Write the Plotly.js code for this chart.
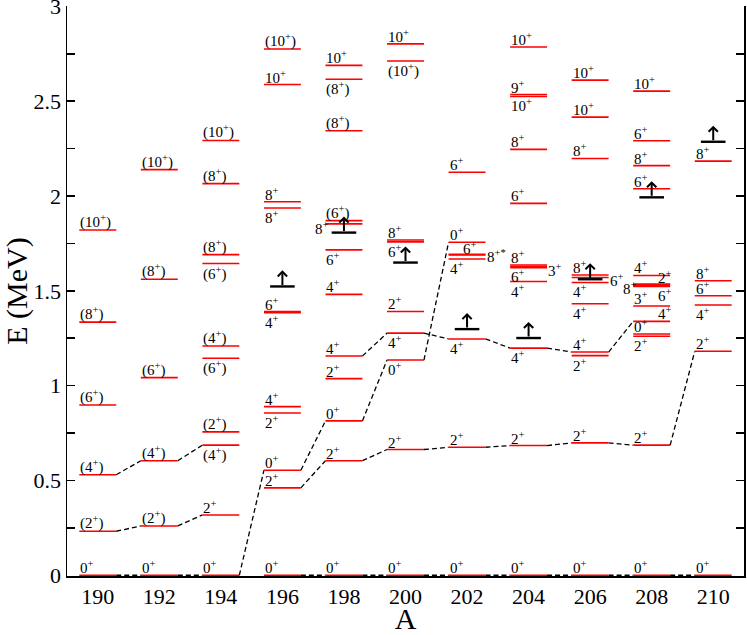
<!DOCTYPE html>
<html>
<head>
<meta charset="utf-8">
<script src="https://cdn.plot.ly/plotly-3.0.1.min.js"></script>
<style>html,body{margin:0;padding:0;background:#fff;}#plot{width:747px;height:635px;}</style>
</head>
<body>
<div id="plot"></div>
<script>
// ---- data ----
const massNumbers = [190, 192, 194, 196, 198, 200, 202, 204, 206, 208, 210];

const levelA = [
  190,190,190,190,190,190,
  192,192,192,192,192,192,
  194,194,194,194,194,194,194,194,194,194,
  196,196,196,196,196,196,196,196,196,196,196,
  198,198,198,198,198,198,198,198,198,198,198,198,
  200,200,200,200,200,200,200,200,200,
  202,202,202,202,202,202,202,202,
  204,204,204,204,204,204,204,204,204,204,204,204,
  206,206,206,206,206,206,206,206,206,206,206,
  208,208,208,208,208,208,208,208,208,208,208,208,208,208,
  210,210,210,210,210,210
];
const levelE = [
  0, 0.232, 0.530, 0.898, 1.335, 1.821,
  0, 0.260, 0.604, 1.042, 1.561, 2.139,
  0, 0.318, 0.686, 0.756, 1.144, 1.209, 1.644, 1.691, 2.065, 2.293,
  0, 0.461, 0.554, 0.856, 0.889, 1.385, 1.390, 1.937, 1.970, 2.588, 2.775,
  0, 0.604, 0.814, 1.037, 1.156, 1.481, 1.716, 1.853, 1.870, 2.344, 2.616, 2.689,
  0, 0.663, 1.135, 1.277, 1.391, 1.758, 1.768, 2.712, 2.802,
  0, 0.675, 1.246, 1.668, 1.689, 1.692, 1.756, 2.125,
  0, 0.684, 1.198, 1.549, 1.622, 1.628, 1.636, 1.961, 2.246, 2.525, 2.535, 2.786,
  0, 0.698, 1.158, 1.177, 1.432, 1.544, 1.570, 1.583, 2.198, 2.416, 2.611,
  0, 0.686, 1.260, 1.272, 1.339, 1.420, 1.523, 1.529, 1.535, 1.581, 2.038, 2.160, 2.291, 2.553,
  0, 1.181, 1.425, 1.474, 1.553, 2.184
];
const levelJ = [
  "0+","(2+)","(4+)","(6+)","(8+)","(10+)",
  "0+","(2+)","(4+)","(6+)","(8+)","(10+)",
  "0+","2+","(4+)","(2+)","(6+)","(4+)","(6+)","(8+)","(8+)","(10+)",
  "0+","2+","0+","2+","4+","4+","6+","8+","8+","10+","(10+)",
  "0+","2+","0+","2+","4+","4+","6+","8+","(6+)","(8+)","(8+)","10+",
  "0+","2+","0+","4+","2+","6+","8+","(10+)","10+",
  "0+","2+","4+","4+","6+","8+*","0+","6+",
  "0+","2+","4+","4+","3+","6+","8+","6+","8+","10+","9+","10+",
  "0+","2+","2+","4+","4+","4+","6+","8+","8+","10+","10+",
  "0+","2+","2+","0+","4+","3+","6+","2+","8+","4+","6+","8+","6+","10+",
  "0+","2+","4+","6+","8+","8+"
];
// label placement: a above, b below, ar/br right-aligned, r right side, l left side, c above centre
const labelPos = [
  "a","a","a","a","a","a",
  "a","a","a","a","a","a",
  "a","a","b","a","b","a","b","a","a","a",
  "a","a","a","b","a","b","a","b","a","a","a",
  "a","a","a","a","a","a","b","l","a","a","b","a",
  "a","a","b","b","a","b","a","b","a",
  "a","a","b","b","c","r","a","a",
  "a","a","b","b","r","b","a","a","a","b","a","a",
  "a","a","b","a","b","b","r","a","a","a","a",
  "a","a","b","a","ar","a","br","ar","l","a","a","a","a","a",
  "a","a","b","a","a","a"
];

// tentative (arrow) levels
const arrowA = [196, 198, 200, 202, 204, 206, 208, 210];
const arrowE = [1.523, 1.807, 1.649, 1.298, 1.251, 1.561, 1.993, 2.286];

// dashed band connections
const bands = [
  {A: [190, 192, 194], E: [0, 0, 0]},
  {A: [196, 198, 200, 202, 204, 206, 208, 210], E: [0, 0, 0, 0, 0, 0, 0, 0]},
  {A: [190, 192, 194], E: [0.232, 0.260, 0.318]},
  {A: [190, 192, 194], E: [0.530, 0.604, 0.686]},
  {A: [194, 196, 198, 200, 202], E: [0, 0.554, 0.814, 1.135, 1.756]},
  {A: [196, 198, 200, 202, 204, 206, 208, 210], E: [0.461, 0.604, 0.663, 0.675, 0.684, 0.698, 0.686, 1.181]},
  {A: [198, 200, 202, 204, 206, 208], E: [1.156, 1.277, 1.246, 1.198, 1.177, 1.339]}
];

// ---- drawing ----
const HW = 0.6;   // half width of a level bar (in A units)
const AW = 0.4;   // half width of an arrow bar

const lx = [], ly = [];
levelA.forEach((a, i) => {
  lx.push(a - HW, a + HW, null); ly.push(levelE[i], levelE[i], null);
});

const dx = [], dy = [];
bands.forEach(b => {
  for (let k = 0; k < b.A.length - 1; k++) {
    dx.push(b.A[k] + HW, b.A[k + 1] - HW, null);
    dy.push(b.E[k], b.E[k + 1], null);
  }
});

const ax_ = [], ay_ = [];
arrowA.forEach((a, i) => { ax_.push(a - AW, a + AW, null); ay_.push(arrowE[i], arrowE[i], null); });

const traces = [
  {x: dx, y: dy, mode: "lines", line: {color: "black", width: 1.3, dash: "5px,3px"}, hoverinfo: "skip"},
  {x: lx, y: ly, mode: "lines", line: {color: "#ff0000", width: 1.6}, hoverinfo: "skip"},
  {x: ax_, y: ay_, mode: "lines", line: {color: "black", width: 2.4}, hoverinfo: "skip"}
];

function fmt(j) {
  return j.replace(/(\d+)(\+\*?)/, "$1<sup>$2</sup>");
}

const FONT = '"Liberation Serif", "Times New Roman", serif';
const annotations = [];
levelA.forEach((a, i) => {
  const p = labelPos[i];
  const ann = {x: a - HW, y: levelE[i], text: fmt(levelJ[i]), showarrow: false,
    font: {family: FONT, size: 15, color: "black"}, borderpad: 0};
  if (p === "a") { ann.xanchor = "left"; ann.yanchor = "bottom"; ann.yshift = -2; }
  else if (p === "b") { ann.xanchor = "left"; ann.yanchor = "top"; ann.yshift = 1; }
  else if (p === "c") { ann.x = a - 0.15; ann.xanchor = "left"; ann.yanchor = "bottom"; ann.yshift = -3; }
  else if (p === "ar") { ann.x = a + HW + 0.1; ann.xanchor = "right"; ann.yanchor = "bottom"; ann.yshift = -2; }
  else if (p === "br") { ann.x = a + HW + 0.1; ann.xanchor = "right"; ann.yanchor = "top"; ann.yshift = 1; }
  else if (p === "r") { ann.x = a + HW; ann.xanchor = "left"; ann.yanchor = "middle"; ann.yshift = -2; }
  else if (p === "l") { ann.x = a - HW + 0.15; ann.xanchor = "right"; ann.yanchor = "middle"; ann.yshift = -4; }
  annotations.push(ann);
});
arrowA.forEach((a, i) => {
  annotations.push({x: a, y: arrowE[i] + 0.085, ax: a, ay: arrowE[i], axref: "x", ayref: "y",
    xref: "x", yref: "y", text: "", showarrow: true, arrowhead: 4, arrowsize: 0.9, arrowwidth: 2,
    arrowcolor: "black", standoff: 0, startstandoff: 0});
});

const yTicks = [0, 0.25, 0.5, 0.75, 1, 1.25, 1.5, 1.75, 2, 2.25, 2.5, 2.75, 3];
const yTickText = ["0", "", "0.5", "", "1", "", "1.5", "", "2", "", "2.5", "", "3"];

const layout = {
  width: 747, height: 635,
  margin: {l: 67, r: 3, t: 6, b: 59},
  paper_bgcolor: "white", plot_bgcolor: "white",
  showlegend: false,
  font: {family: FONT, color: "black"},
  xaxis: {
    range: [189, 211], tickvals: massNumbers, ticktext: massNumbers.map(String),
    ticks: "", showline: true, linecolor: "black", linewidth: 1.5, layer: "below traces",
    showgrid: false, zeroline: false,
    tickfont: {family: FONT, size: 22, color: "black"},
    title: {text: "A", font: {family: FONT, size: 30, color: "black"}, standoff: 0}
  },
  yaxis: {
    range: [-0.004, 3.002], tickvals: yTicks, ticktext: yTickText,
    ticks: "inside", ticklen: 8, tickwidth: 1.5, tickcolor: "black",
    showline: true, linecolor: "black", linewidth: 1.5, mirror: "ticks", layer: "below traces",
    showgrid: false, zeroline: false, ticklabeloverflow: "allow",
    tickfont: {family: FONT, size: 22, color: "black"},
    title: {text: "E (MeV)", font: {family: FONT, size: 30, color: "black"}, standoff: 0}
  },
  annotations: annotations
};

Plotly.newPlot("plot", traces, layout, {displayModeBar: false, staticPlot: true});
</script>
</body>
</html>
